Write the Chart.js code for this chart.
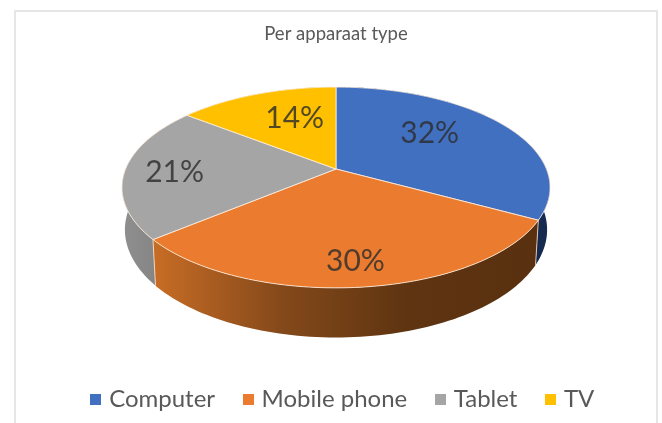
<!DOCTYPE html>
<html>
<head>
<meta charset="utf-8">
<title>Per apparaat type</title>
<script src="https://cdn.jsdelivr.net/npm/chart.js@4"></script>
<style>
  html, body { margin: 0; padding: 0; background: #fff; overflow: hidden; }
  #frame { position: absolute; left: 14px; top: 10px; width: 644px; height: 420px; border: 2px solid #e6e6e6; box-sizing: border-box; }
  #pie { position: absolute; left: 0; top: 0; filter: blur(0.35px); }
</style>
</head>
<body>
<div id="frame"></div>
<canvas id="pie" width="662" height="423"></canvas>
<script>
const categories = ["Computer", "Mobile phone", "Tablet", "TV"];
const shares = [32, 30, 21, 14];
const sliceColors = ["#4170C1", "#EB7C2F", "#A5A5A5", "#FFC000"];

// side wall colours, left to right
const wallColors = [
    ["#1f3a70", "#16294f"],
    ["#c76c25", "#84491a", "#5e3411", "#5a3110"],
    ["#8f8f8f", "#858585"],
    ["#b38600", "#b38600"]
];

// where each percent sits: fraction of the radius, then a small nudge
const labelSpots = [[0.55, -1, -10], [0.81, 0, 1], [0.77, 1, 2], [0.6, 9, -3]];

// perspective of the tilted disc
const K = 0.184;
const topFace = { cx: 336, cy: 169, rx: 210.4, ry: 97 };
const bottomFace = { cx: 336, cy: 210, rx: 207.5, ry: 104 };

function project(face, angle, r) {
    const u = Math.cos(angle) * r, v = Math.sin(angle) * r;
    const w = 1 - K * v;
    return [face.cx + face.rx * u / w, face.cy + face.ry * v / w];
}

function rim(ctx, face, from, to) {
    const steps = Math.max(4, Math.ceil(Math.abs(to - from) * 40));
    for (let i = 0; i <= steps; i++) {
        const p = project(face, from + (to - from) * i / steps, 1);
        ctx.lineTo(p[0], p[1]);
    }
}

// legend swatch, drawn as an image so it can sit closer to its text
function swatch(color) {
    const c = document.createElement("canvas");
    c.width = 11;
    c.height = 11;
    const g = c.getContext("2d");
    g.fillStyle = color;
    g.fillRect(0, 0, 11, 11);
    return c;
}

const disc3d = {
    id: "disc3d",
    afterLayout(chart) {
        // legend sits a bit right of the title in the original
        chart.legend.left += 8.5;
        chart.legend.right += 8.5;
    },
    beforeDatasetsDraw(chart) {
        const ctx = chart.ctx;
        const arcs = chart.getDatasetMeta(0).data;
        const order = arcs.map((a, i) => i).sort((i, j) =>
            Math.sin((arcs[i].startAngle + arcs[i].endAngle) / 2) -
            Math.sin((arcs[j].startAngle + arcs[j].endAngle) / 2));

        // side walls, back to front
        order.forEach(i => {
            const a = arcs[i];
            const g = ctx.createLinearGradient(i === 2 ? 122 : 155, 0, i === 2 ? 157 : 535, 0);
            wallColors[i].forEach((c, n) => g.addColorStop(n / (wallColors[i].length - 1), c));
            ctx.beginPath();
            rim(ctx, topFace, a.startAngle, a.endAngle);
            rim(ctx, bottomFace, a.endAngle, a.startAngle);
            ctx.closePath();
            ctx.fillStyle = g;
            ctx.fill();
        });

        // light corners where the front walls meet
        ctx.strokeStyle = "rgba(255,235,215,0.75)";
        ctx.lineWidth = 1;
        [arcs[1].startAngle, arcs[1].endAngle].forEach(angle => {
            const p = project(topFace, angle, 1), q = project(bottomFace, angle, 1);
            ctx.beginPath();
            ctx.moveTo(p[0], p[1]);
            ctx.lineTo(q[0], q[1]);
            ctx.stroke();
        });

        // top face
        arcs.forEach((a, i) => {
            ctx.beginPath();
            ctx.moveTo(topFace.cx, topFace.cy);
            rim(ctx, topFace, a.startAngle, a.endAngle);
            ctx.closePath();
            ctx.fillStyle = sliceColors[i];
            ctx.fill();
            ctx.strokeStyle = "rgba(255,240,225,0.8)";
            ctx.lineWidth = 1;
            ctx.stroke();
        });

        // percent labels
        ctx.font = "30px Lato";
        ctx.fillStyle = "rgba(45,45,45,0.82)";
        ctx.textAlign = "center";
        ctx.textBaseline = "middle";
        arcs.forEach((a, i) => {
            const s = labelSpots[i];
            const p = project(topFace, (a.startAngle + a.endAngle) / 2, s[0]);
            ctx.fillText(shares[i] + "%", p[0] + s[1], p[1] + s[2]);
        });
        return false;
    }
};

new Chart(document.getElementById("pie"), {
    type: "pie",
    data: {
        labels: categories,
        datasets: [{ data: shares, backgroundColor: sliceColors, borderWidth: 0 }]
    },
    options: {
        responsive: false,
        animation: false,
        layout: { padding: { top: 23, bottom: 2, left: 10 } },
        plugins: {
            tooltip: { enabled: false },
            title: {
                display: true,
                text: "Per apparaat type",
                color: "#595959",
                font: { family: "Lato", size: 18.5, weight: "normal" },
                padding: { top: 0, bottom: 0 }
            },
            legend: {
                position: "bottom",
                labels: {
                    color: "#595959",
                    font: { family: "Lato", size: 24 },
                    usePointStyle: true,
                    pointStyleWidth: 2.5,
                    boxHeight: 12,
                    padding: 32,
                    generateLabels(chart) {
                        return Chart.overrides.doughnut.plugins.legend.labels.generateLabels(chart)
                            .map((item, i) => ({ ...item, pointStyle: swatch(sliceColors[i]) }));
                    }
                }
            }
        }
    },
    plugins: [disc3d]
});
</script>
</body>
</html>
